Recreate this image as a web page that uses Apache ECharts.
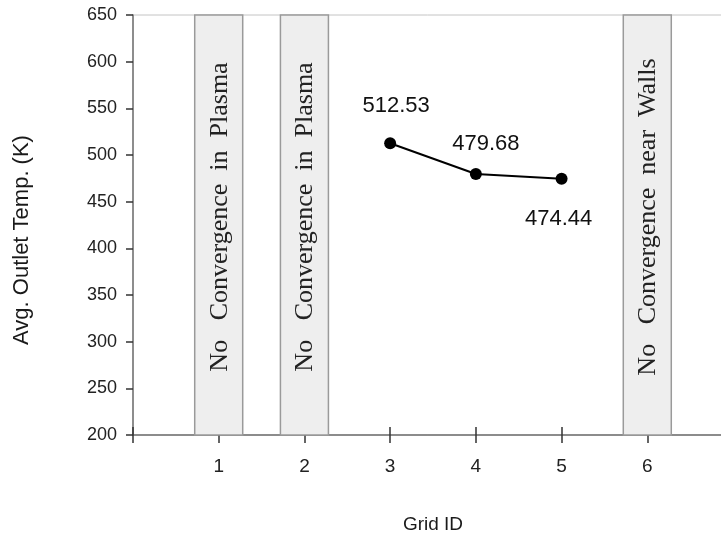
<!DOCTYPE html>
<html>
<head>
<meta charset="utf-8">
<script src="https://cdn.jsdelivr.net/npm/echarts@6/dist/echarts.min.js"></script>
<style>
html,body{margin:0;padding:0;background:#fff;}
#chart{width:721px;height:545px;}
</style>
</head>
<body>
<div id="chart"></div>
<script>
// ---- data ----
var gridIds = [3, 4, 5];
var avgTemps = [512.53, 479.68, 474.44];
var bandIds = [1, 2, 6];
var bandLabels = ['No   Convergence  in  Plasma', 'No   Convergence  in  Plasma', 'No   Convergence  near  Walls'];
var xTickLabels = ['1', '2', '3', '4', '5', '6'];
var yMin = 200, yMax = 650, yStep = 50;
var xMin = 0, xMax = 7;
var xTitle = 'Grid ID';
var yTitle = 'Avg. Outlet Temp. (K)';

// ---- build ----
var labelCfg = [
  {position: 'top', distance: 20, offset: [6, 0]},
  {position: 'top', distance: 13, offset: [10, 0]},
  {position: 'bottom', distance: 23, offset: [-3, 0]}
];
var lineData = gridIds.map(function (g, i) {
  return {value: [g, avgTemps[i]], label: labelCfg[i]};
});
var bandData = bandIds.map(function (b, i) { return [b, i]; });

var chart = echarts.init(document.getElementById('chart'));
var font = 'Liberation Sans, Arial, sans-serif';
chart.setOption({
  animation: false,
  backgroundColor: '#ffffff',
  grid: {left: 133, top: 15, right: -12, bottom: 110, show: true,
         containLabel: false, outerBoundsMode: 'none',
         borderColor: '#c4c4c4', borderWidth: 1, backgroundColor: 'transparent'},
  xAxis: [{
    type: 'value', min: xMin, max: xMax, interval: 1,
    name: xTitle, nameLocation: 'middle', nameGap: 80,
    nameTextStyle: {fontFamily: font, fontSize: 19, color: '#1a1a1a'},
    axisLine: {show: true, lineStyle: {color: '#707070', width: 1.5}},
    axisTick: {show: true, length: 8, lineStyle: {color: '#333', width: 1.5}},
    axisLabel: {fontFamily: font, fontSize: 19, color: '#222', margin: 22,
      formatter: function (v) { return (v >= 1 && v <= xTickLabels.length) ? xTickLabels[v - 1] : ''; }},
    splitLine: {show: false}
  }, {
    type: 'value', min: xMin, max: xMax, interval: 1, position: 'bottom',
    axisLine: {show: false},
    axisTick: {show: true, inside: true, length: 8, lineStyle: {color: '#333', width: 1.5}},
    axisLabel: {show: false},
    splitLine: {show: false}
  }],
  yAxis: {
    type: 'value', min: yMin, max: yMax, interval: yStep,
    name: yTitle, nameLocation: 'middle', nameGap: 100, nameRotate: 90,
    nameTextStyle: {fontFamily: font, fontSize: 22, color: '#1a1a1a', padding: [0, 30, 0, 0]},
    axisLine: {show: true, lineStyle: {color: '#707070', width: 1.5}},
    axisTick: {show: true, length: 7, lineStyle: {color: '#333', width: 1.5}},
    axisLabel: {fontFamily: font, fontSize: 18, color: '#222', margin: 16},
    splitLine: {show: false}
  },
  series: [{
    type: 'custom',
    z: 3,
    data: bandData,
    renderItem: function (params, api) {
      var x = api.value(0);
      var half = 0.28;
      var p1 = api.coord([x - half, yMax]);
      var p2 = api.coord([x + half, yMin]);
      var c = api.coord([x, (yMax + yMin) / 2]);
      return {
        type: 'group',
        children: [{
          type: 'rect',
          shape: {x: p1[0], y: p1[1], width: p2[0] - p1[0], height: p2[1] - p1[1]},
          style: {fill: '#eeeeee', stroke: '#9a9a9a', lineWidth: 1.5}
        }, {
          type: 'text',
          x: c[0] + 1, y: c[1] - 8,
          rotation: Math.PI / 2,
          style: {text: bandLabels[api.value(1)], fontFamily: 'Liberation Serif, Times New Roman, serif',
                  fontSize: 26, fill: '#222', align: 'center', verticalAlign: 'middle'}
        }]
      };
    }
  }, {
    type: 'line',
    z: 5,
    data: lineData,
    symbol: 'circle', symbolSize: 12,
    lineStyle: {color: '#000', width: 2},
    itemStyle: {color: '#000'},
    label: {show: true, fontFamily: font, fontSize: 22, color: '#111',
      formatter: function (p) { return p.value[1].toFixed(2); }}
  }]
});
</script>
</body>
</html>
